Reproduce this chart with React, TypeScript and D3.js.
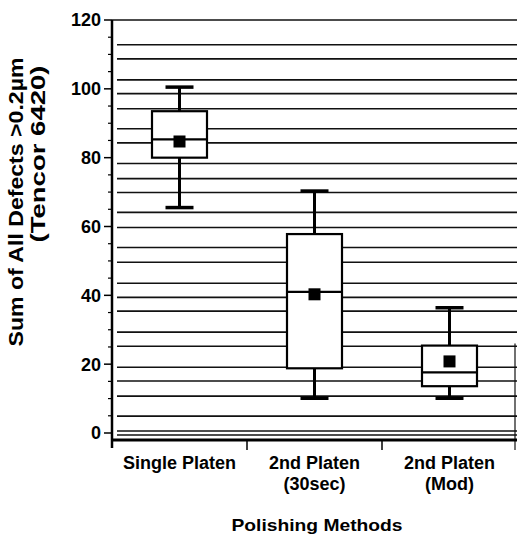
import { useRef, useEffect } from 'react';
import * as d3 from 'd3';

const methods = ['Single Platen', '2nd Platen (30sec)', '2nd Platen (Mod)'];
const methodLines = [['Single Platen'], ['2nd Platen', '(30sec)'], ['2nd Platen', '(Mod)']];
const whiskerLow = [65.5, 10.1, 10.1];
const q1 = [80, 18.8, 13.6];
const median = [85.3, 41, 17.6];
const q3 = [93.5, 57.8, 25.4];
const whiskerHigh = [100.5, 70.3, 36.4];
const means = [84.7, 40.3, 20.8];

const majorTicks = [0, 20, 40, 60, 80, 100, 120];
const minorTicks = d3.range(0, 121, 5);
// the ruled lines behind the plot (they're not evenly spaced on the original)
const ruleLines = [112.8, 108.7, 102.6, 98.6, 94.2, 88.4, 84.3, 78.3, 73.9, 69.9, 64.1, 59.7, 53.9,
  49.6, 43.5, 39.4, 35.4, 29.3, 25.2, 19.1, 15.1, 10.7, 4.9, 0.6, -0.6];

const useD3 = (renderChartFn, dependencies) => {
  const ref = useRef(null);
  useEffect(() => {
    renderChartFn(d3.select(ref.current));
    return () => {};
  }, dependencies);
  return ref;
};

const BoxChart = () => {
  const width = 517;
  const height = 537;
  const left = 112;
  const right = 517;

  const ref = useD3((svg) => {
    svg.selectAll('*').remove();
    const font = 'Liberation Sans, Arial, sans-serif';

    const y = d3.scaleLinear().domain([0, 120]).range([433, 20]);
    const x = d3.scaleBand().domain(methods).range([left, right]).padding(0);
    const axisY = y(0) + 7;

    const g = svg.append('g');

    // ruled lines
    g.selectAll('.rule')
      .data(ruleLines)
      .join('line')
      .attr('x1', left + 5)
      .attr('x2', right)
      .attr('y1', (d) => y(d))
      .attr('y2', (d) => y(d))
      .attr('stroke', '#111')
      .attr('stroke-width', 1.6);
    g.append('line')
      .attr('x1', left).attr('x2', right)
      .attr('y1', y(120)).attr('y2', y(120))
      .attr('stroke', '#111').attr('stroke-width', 1.4);

    // partial right border
    g.append('line')
      .attr('x1', 515).attr('x2', 515)
      .attr('y1', y(26)).attr('y2', axisY + 10)
      .attr('stroke', '#111').attr('stroke-width', 1.2);

    // y axis
    g.append('line')
      .attr('x1', left).attr('x2', left)
      .attr('y1', y(120)).attr('y2', axisY + 8)
      .attr('stroke', '#000').attr('stroke-width', 2.5);
    g.selectAll('.minor')
      .data(minorTicks.filter((d) => !majorTicks.includes(d)))
      .join('line')
      .attr('x1', left - 4).attr('x2', left)
      .attr('y1', (d) => y(d)).attr('y2', (d) => y(d))
      .attr('stroke', '#000').attr('stroke-width', 1.2);
    g.selectAll('.major')
      .data(majorTicks)
      .join('line')
      .attr('x1', left - 8).attr('x2', left)
      .attr('y1', (d) => y(d)).attr('y2', (d) => y(d))
      .attr('stroke', '#000').attr('stroke-width', 1.5);
    g.selectAll('.ylab')
      .data(majorTicks)
      .join('text')
      .attr('x', left - 11)
      .attr('y', (d) => y(d))
      .attr('dy', '0.36em')
      .attr('text-anchor', 'end')
      .attr('font-family', font)
      .attr('font-size', 18)
      .attr('font-weight', 'bold')
      .attr('fill', '#000')
      .text((d) => d);

    // x axis
    g.append('line')
      .attr('x1', left).attr('x2', right)
      .attr('y1', axisY).attr('y2', axisY)
      .attr('stroke', '#000').attr('stroke-width', 3);
    g.selectAll('.xtick')
      .data(methods.slice(1))
      .join('line')
      .attr('x1', (d) => x(d)).attr('x2', (d) => x(d))
      .attr('y1', axisY).attr('y2', axisY + 10)
      .attr('stroke', '#000').attr('stroke-width', 1.5);
    methods.forEach((m, i) => {
      const t = g.append('text')
        .attr('x', x(m) + x.bandwidth() / 2)
        .attr('y', 469)
        .attr('text-anchor', 'middle')
        .attr('font-family', font)
        .attr('font-size', 18)
        .attr('font-weight', 'bold')
        .attr('fill', '#000');
      methodLines[i].forEach((line, k) => {
        t.append('tspan')
          .attr('x', x(m) + x.bandwidth() / 2)
          .attr('dy', k === 0 ? 0 : 21)
          .text(line);
      });
    });

    // boxes
    const cx = (i) => x(methods[i]) + x.bandwidth() / 2;
    const boxW = 55;
    const capW = 28;
    const boxes = g.selectAll('.box').data(methods).join('g');
    boxes.append('line')
      .attr('x1', (d, i) => cx(i)).attr('x2', (d, i) => cx(i))
      .attr('y1', (d, i) => y(whiskerLow[i])).attr('y2', (d, i) => y(whiskerHigh[i]))
      .attr('stroke', '#000').attr('stroke-width', 3);
    [whiskerLow, whiskerHigh].forEach((arr) => {
      boxes.append('line')
        .attr('x1', (d, i) => cx(i) - capW / 2).attr('x2', (d, i) => cx(i) + capW / 2)
        .attr('y1', (d, i) => y(arr[i])).attr('y2', (d, i) => y(arr[i]))
        .attr('stroke', '#000').attr('stroke-width', 3.5);
    });
    boxes.append('rect')
      .attr('x', (d, i) => cx(i) - boxW / 2)
      .attr('width', boxW)
      .attr('y', (d, i) => y(q3[i]))
      .attr('height', (d, i) => y(q1[i]) - y(q3[i]))
      .attr('fill', '#fff')
      .attr('stroke', '#000')
      .attr('stroke-width', 2.2);
    boxes.append('line')
      .attr('x1', (d, i) => cx(i) - boxW / 2).attr('x2', (d, i) => cx(i) + boxW / 2)
      .attr('y1', (d, i) => y(median[i])).attr('y2', (d, i) => y(median[i]))
      .attr('stroke', '#000').attr('stroke-width', 2.2);
    boxes.append('rect')
      .attr('x', (d, i) => cx(i) - 6)
      .attr('y', (d, i) => y(means[i]) - 6)
      .attr('width', 12)
      .attr('height', 12)
      .attr('fill', '#000');

    // titles
    g.append('text')
      .attr('transform', 'translate(317,531)')
      .attr('text-anchor', 'middle')
      .attr('font-family', font)
      .attr('font-size', 17)
      .attr('font-weight', 'bold')
      .attr('textLength', 171)
      .attr('lengthAdjust', 'spacingAndGlyphs')
      .text('Polishing Methods');
    g.append('text')
      .attr('transform', 'translate(23,202) rotate(-90)')
      .attr('text-anchor', 'middle')
      .attr('font-family', font)
      .attr('font-size', 20)
      .attr('font-weight', 'bold')
      .attr('textLength', 289)
      .attr('lengthAdjust', 'spacingAndGlyphs')
      .text('Sum of All Defects >0.2µm');
    g.append('text')
      .attr('transform', 'translate(45,154) rotate(-90)')
      .attr('text-anchor', 'middle')
      .attr('font-family', font)
      .attr('font-size', 20)
      .attr('font-weight', 'bold')
      .attr('textLength', 177)
      .attr('lengthAdjust', 'spacingAndGlyphs')
      .text('(Tencor 6420)');
  }, []);

  return (
    <svg
      ref={ref}
      width={width}
      height={height}
      style={{ position: 'absolute', left: 0, top: 0, background: '#fff' }}
    />
  );
};

export default function App() {
  return <BoxChart />;
}
